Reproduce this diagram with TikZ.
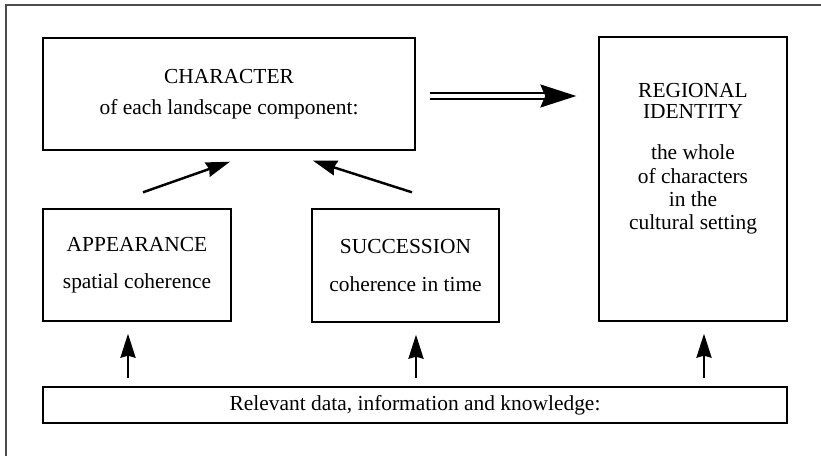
\documentclass[tikz,border=0pt]{standalone}
\usepackage{fontspec}
\setmainfont{Liberation Serif}
\usetikzlibrary{arrows.meta}

\begin{document}
\begin{tikzpicture}[x=0.02cm,y=-0.02cm]
\tikzstyle{every node}=[font=\fontsize{12.2}{11.3}\selectfont]
\tikzstyle{box}=[draw, line width=0.8pt, inner sep=0pt, align=center]
\tikzstyle{uparrow}=[-{Stealth[length=0.48cm,width=0.3cm,inset=0.04cm]}, line width=1.4pt]
\tikzstyle{dblarrow}=[-{Stealth[length=0.72cm,width=0.46cm,inset=0.1cm]}, double, double distance=2.3pt, line width=1.3pt]
\useasboundingbox (0,0) rectangle (821,456);
% frame
\draw [black!70, line width=1.1pt] (6,456) |- (821,5);
% boxes
\node [box, minimum width=7.44cm, minimum height=2.24cm] (char) at (229,94) {CHARACTER\\[6.5pt]of each landscape component:};
\node [box, minimum width=3.76cm, minimum height=5.68cm] (regid) at (693,179) {REGIONAL\\[0.5pt]IDENTITY\\[12.5pt]the whole\\[2pt]of characters\\[2pt]in the\\[2pt]cultural setting\rule[-0.9cm]{0pt}{0.9cm}};
\node [box, minimum width=3.76cm, minimum height=2.24cm] (appear) at (137,265) {APPEARANCE\\[10pt]spatial coherence};
\node [box, minimum width=3.74cm, minimum height=2.26cm] (succ) at (405.5,265.5) {SUCCESSION\\[10pt]coherence in time};
\node [box, minimum width=14.88cm, minimum height=0.72cm] (data) at (415,405) {Relevant data, information and knowledge:};
% arrows
\draw [uparrow] ([xshift=0.12cm,yshift=0.32cm]appear.north) -- ([xshift=0.02cm,yshift=-0.22cm]char.south);
\draw [uparrow] ([xshift=0.13cm,yshift=0.32cm]succ.north) -- ([xshift=1.68cm,yshift=-0.2cm]char.south);
\foreach \n/\dx in {appear/-0.18,succ/0.21,regid/0.22}
  \draw [uparrow] ([xshift=\dx cm,yshift=0.16cm]\n.south |- data.north) -- ([xshift=\dx cm,yshift=-0.24cm]\n.south);
\draw [dblarrow] ([xshift=0.28cm,yshift=-0.04cm]char.east) -- ([xshift=-0.44cm,yshift=-0.04cm]regid.west |- char.east);
\end{tikzpicture}
\end{document}
